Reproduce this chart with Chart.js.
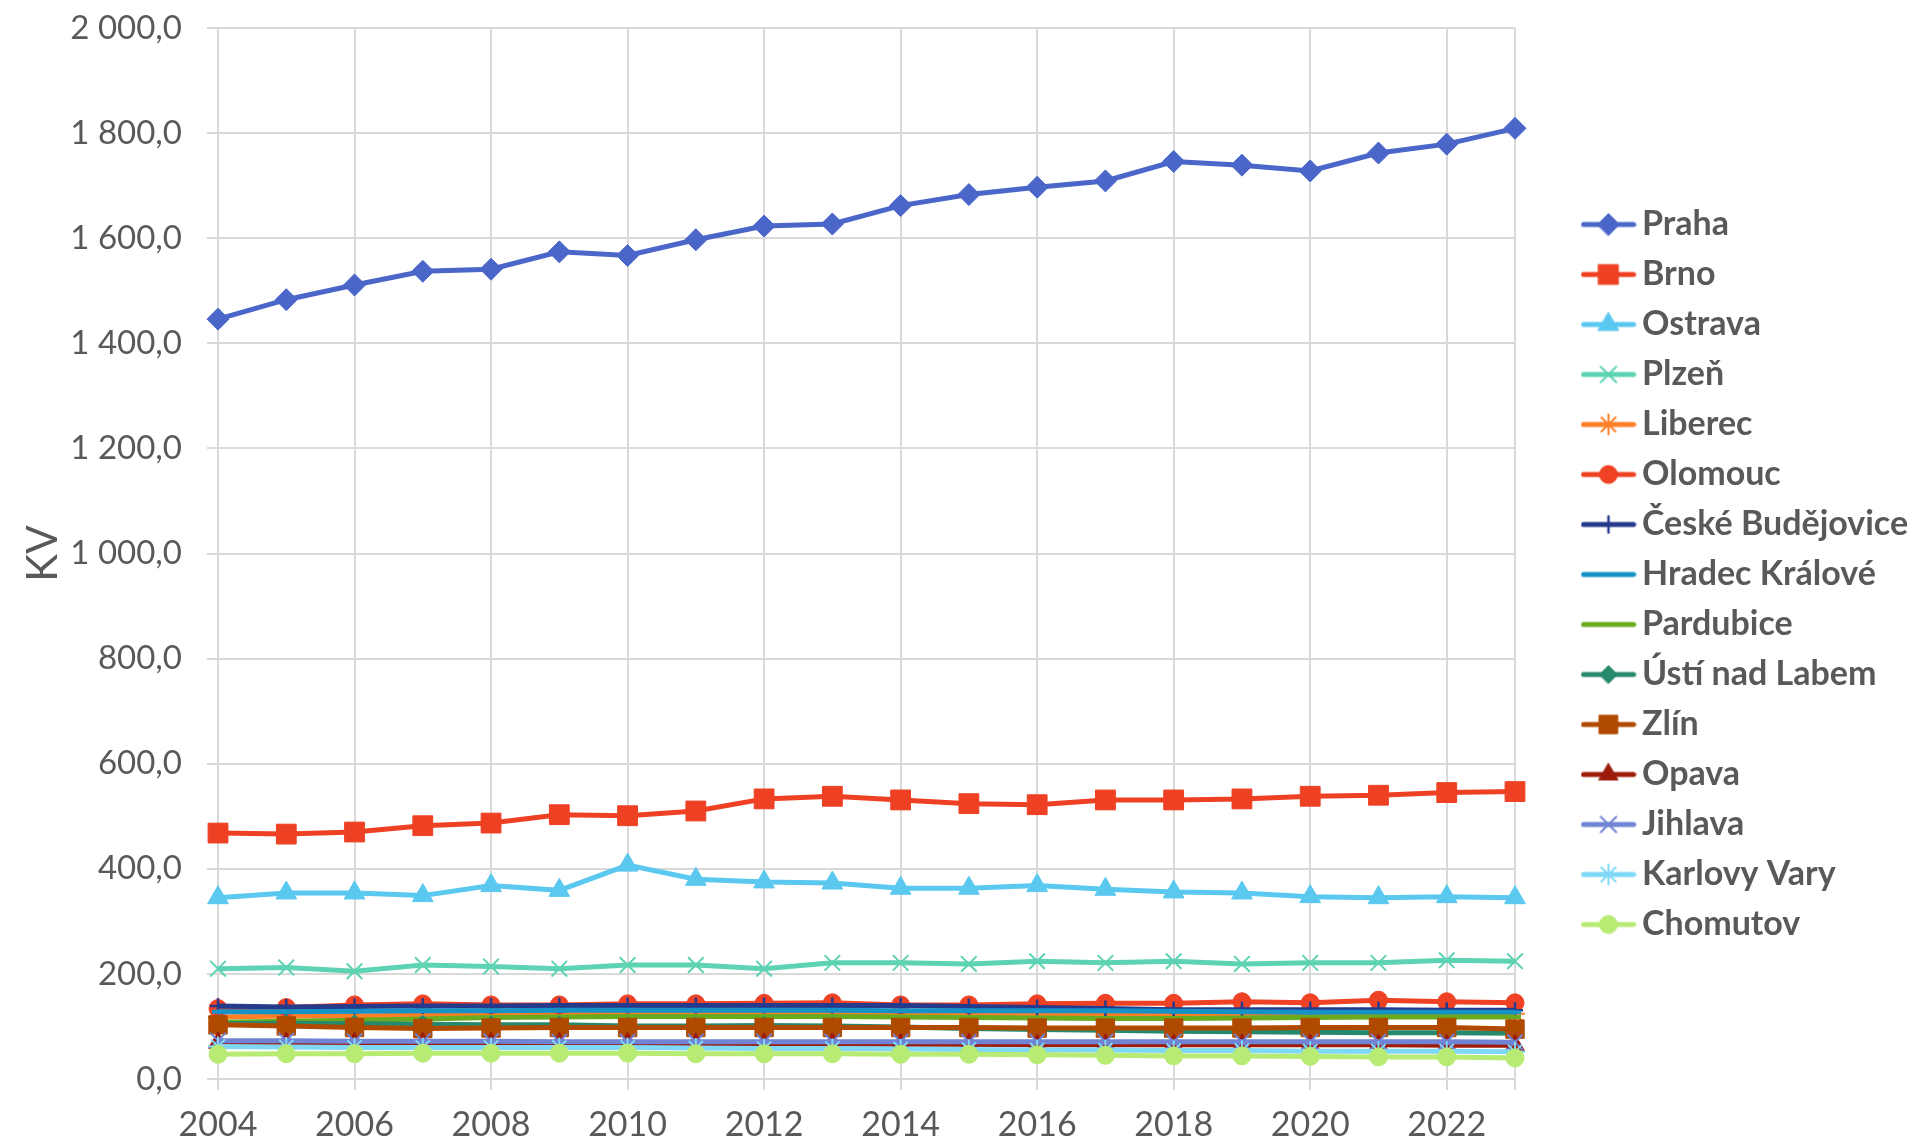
<!DOCTYPE html>
<html>
<head>
<meta charset="utf-8">
<script src="https://cdn.jsdelivr.net/npm/chart.js@4.4.1/dist/chart.umd.min.js"></script>
<style>
  html, body { margin: 0; padding: 0; background: #ffffff; }
  #wrap { width: 1916px; height: 1145px; }
</style>
</head>
<body>
<div id="wrap"><canvas id="myChart" width="1916" height="1145"></canvas></div>
<script>
const years = ['2004', '2005', '2006', '2007', '2008', '2009', '2010', '2011', '2012', '2013',
               '2014', '2015', '2016', '2017', '2018', '2019', '2020', '2021', '2022', '2023'];

const praha     = [1446, 1483, 1511, 1537, 1541, 1574, 1567, 1597, 1623, 1627, 1662, 1683, 1697, 1709, 1746, 1739, 1728, 1762, 1779, 1809];
const brno      = [468, 466, 470, 482, 487, 503, 501, 510, 533, 538, 531, 524, 522, 531, 531, 533, 538, 540, 545, 547];
const ostrava   = [345, 354, 354, 349, 368, 359, 407, 380, 375, 373, 363, 363, 368, 361, 356, 354, 347, 345, 347, 345];
const plzen     = [210, 212, 205, 217, 214, 210, 217, 217, 210, 221, 221, 219, 224, 221, 224, 219, 221, 221, 226, 224];
const liberec   = [118, 120, 120, 122, 123, 124, 125, 125, 125, 126, 125, 125, 124, 124, 124, 124, 124, 125, 125, 124];
const olomouc   = [134, 136, 141, 143, 141, 141, 143, 143, 144, 145, 141, 141, 143, 144, 144, 147, 145, 150, 147, 145];
const budejovice = [139, 137, 138, 139, 139, 140, 140, 140, 140, 140, 140, 138, 136, 134, 132, 132, 132, 132, 131, 131];
const hradec    = [128, 128, 129, 130, 130, 131, 131, 131, 131, 131, 130, 130, 130, 130, 129, 128, 127, 127, 127, 127];
const pardubice = [108, 110, 112, 114, 117, 118, 119, 119, 119, 119, 118, 117, 116, 115, 115, 116, 117, 118, 118, 118];
const usti      = [105, 106, 105, 104, 103, 103, 101, 101, 102, 101, 99, 96, 94, 93, 91, 90, 89, 88, 88, 87];
const zlin      = [103, 101, 98, 96, 97, 98, 98, 98, 98, 98, 98, 98, 97, 97, 97, 97, 98, 98, 98, 95];
const opava     = [69, 69, 68, 68, 68, 68, 68, 67, 67, 67, 66, 66, 65, 65, 65, 65, 65, 65, 64, 64];
const jihlava   = [73, 73, 72, 72, 72, 71, 71, 71, 71, 71, 71, 71, 71, 71, 71, 71, 71, 71, 71, 70];
const karlovyVary = [62, 61, 60, 60, 60, 60, 60, 59, 58, 58, 57, 56, 55, 55, 54, 54, 53, 53, 53, 52];
const chomutov  = [47, 48, 48, 49, 49, 49, 49, 48, 48, 48, 47, 47, 46, 45, 44, 44, 43, 42, 42, 40];

const yTicks = [0, 200, 400, 600, 800, 1000, 1200, 1400, 1600, 1800, 2000];

const TEXT = '#595959';
const GRID = '#d9d9d9';

// name, values, colour, marker, marker radius, marker stroke
const seriesDefs = [
    ['Praha', praha, '#4A66C9', 'rectRot', 11, 1],
    ['Brno', brno, '#EE4124', 'rect', 14, 1],
    ['Ostrava', ostrava, '#5BC8F0', 'triangle', 12, 1],
    ['Plzeň', plzen, '#5DD3B3', 'crossRot', 11, 2],
    ['Liberec', liberec, '#FF7F27', 'star', 10, 2],
    ['Olomouc', olomouc, '#EF4124', 'circle', 9, 1],
    ['České Budějovice', budejovice, '#263A8C', 'cross', 8, 2.5],
    ['Hradec Králové', hradec, '#1592C6', 'line', 6, 4],
    ['Pardubice', pardubice, '#6AAA1E', 'line', 6, 4],
    ['Ústí nad Labem', usti, '#27896C', 'rectRot', 9, 1],
    ['Zlín', zlin, '#B04A00', 'rect', 13, 1],
    ['Opava', opava, '#9C1B0A', 'triangle', 11, 1],
    ['Jihlava', jihlava, '#7083D4', 'crossRot', 11, 2],
    ['Karlovy Vary', karlovyVary, '#7ED8F6', 'star', 10, 2],
    ['Chomutov', chomutov, '#B8EB74', 'circle', 9, 1]
];

const datasets = seriesDefs.map(function (def, i) {
    return {
        label: def[0],
        data: def[1],
        borderColor: def[2],
        backgroundColor: def[2],
        borderWidth: 5,
        pointStyle: def[3],
        pointRadius: def[4],
        pointBorderWidth: def[5],
        pointBackgroundColor: def[2],
        pointBorderColor: def[2],
        tension: 0,
        order: seriesDefs.length - 1 - i
    };
});

function formatValue(v) {
    let s = Math.round(v).toString().replace(/\B(?=(\d{3})+(?!\d))/g, ' ');
    return s + ',0';
}

function legendIcon(ds) {
    let c = document.createElement('canvas');
    c.width = 56;
    c.height = 32;
    let g = c.getContext('2d');
    g.strokeStyle = ds.borderColor;
    g.lineWidth = ds.borderWidth;
    g.lineCap = 'round';
    g.beginPath();
    g.moveTo(3, 16);
    g.lineTo(53, 16);
    g.stroke();
    g.fillStyle = ds.pointBackgroundColor;
    g.strokeStyle = ds.pointBorderColor;
    g.lineWidth = ds.pointBorderWidth;
    Chart.helpers.drawPoint(g, {
        pointStyle: ds.pointStyle,
        radius: ds.pointRadius,
        borderWidth: ds.pointBorderWidth,
        rotation: 0
    }, 28, 16);
    return c;
}

// plot ends at x=1515, legend entries start further right
const legendPlace = {
    id: 'legendPlace',
    beforeUpdate(chart) {
        let lg = chart.legend;
        if (lg && !lg._placePatched) {
            let fit = lg.fit;
            lg.fit = function () {
                fit.call(this);
                this.width = 401;
            };
            lg._placePatched = true;
        }
    },
    afterLayout(chart) {
        chart.legend.left = 1576;
        chart.legend.top -= 12;
        chart.legend.bottom -= 12;
    }
};

Chart.defaults.font.family = 'Lato, "Open Sans", sans-serif';
Chart.defaults.color = TEXT;

const ctx = document.getElementById('myChart');
const chart = new Chart(ctx, {
    type: 'line',
    data: {
        labels: years,
        datasets: datasets
    },
    plugins: [legendPlace],
    options: {
        responsive: false,
        animation: false,
        layout: {
            autoPadding: false,
            padding: { top: 28, bottom: 0, left: 0, right: 0 }
        },
        scales: {
            x: {
                type: 'category',
                offset: false,
                afterFit: (scale) => { scale.height = 66; },
                grid: {
                    color: (c) => (c.index % 2 === 0 || c.index === years.length - 1) ? GRID : 'rgba(0,0,0,0)',
                    lineWidth: 2,
                    tickLength: 11
                },
                border: { color: GRID, width: 2 },
                ticks: {
                    autoSkip: false,
                    maxRotation: 0,
                    padding: 15,
                    color: TEXT,
                    font: { size: 34 },
                    callback: function (value, index) {
                        return index % 2 === 0 ? years[index] : '';
                    }
                }
            },
            y: {
                min: 0,
                max: 2000,
                afterFit: (scale) => {
                    scale.width = 218;
                    scale.paddingTop = 0;
                    scale.paddingBottom = 0;
                },
                afterBuildTicks: (scale) => {
                    scale.ticks = yTicks.map((v) => ({ value: v }));
                },
                grid: {
                    color: GRID,
                    lineWidth: 2,
                    tickLength: 11
                },
                border: { display: false },
                ticks: {
                    padding: 25,
                    color: TEXT,
                    font: { size: 33 },
                    callback: (v) => formatValue(v)
                },
                title: {
                    display: true,
                    text: 'KV',
                    color: TEXT,
                    font: { size: 42 },
                    padding: { top: 18, bottom: 0 }
                }
            }
        },
        plugins: {
            tooltip: { enabled: false },
            legend: {
                position: 'right',
                align: 'center',
                labels: {
                    usePointStyle: true,
                    pointStyleWidth: 33,
                    padding: 16,
                    color: TEXT,
                    font: { size: 34, weight: 'bold' },
                    generateLabels: (ch) => ch.data.datasets.map((ds, i) => ({
                        text: ds.label,
                        fillStyle: ds.borderColor,
                        strokeStyle: ds.borderColor,
                        lineWidth: 0,
                        pointStyle: legendIcon(ds),
                        hidden: false,
                        datasetIndex: i,
                        fontColor: TEXT
                    }))
                }
            }
        }
    }
});
</script>
</body>
</html>
